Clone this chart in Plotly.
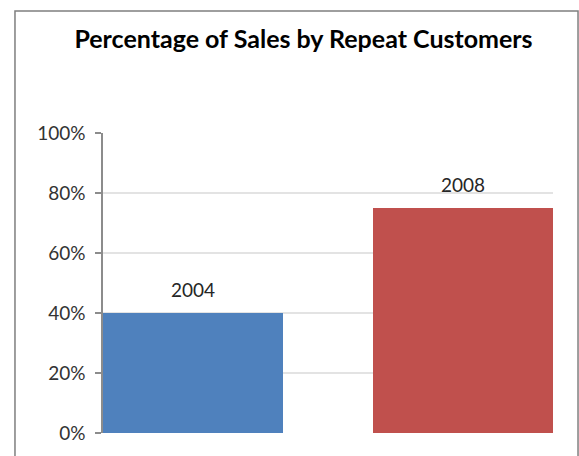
import plotly.graph_objects as go

# Share of sales coming from repeat customers, by year
years = ["2004", "2008"]
repeat_share = [0.40, 0.75]
bar_colors = ["#4F81BD", "#C0504D"]
y_ticks = [0, 0.2, 0.4, 0.6, 0.8, 1.0]

W, H = 579, 456
FONT = "Lato"
BAR_W = 2 / 3  # bars fill two thirds of each category slot

fig = go.Figure(
    go.Bar(
        x=years,
        y=repeat_share,
        marker=dict(color=bar_colors, line=dict(width=0)),
        width=BAR_W,
        hoverinfo="skip",
    )
)

# year labels sitting just above each bar (category axis -> position by index)
for i, (yr, val) in enumerate(zip(years, repeat_share)):
    fig.add_annotation(
        x=i, y=val, xref="x", yref="y",
        text=yr, showarrow=False,
        yanchor="middle", yshift=24,
        font=dict(family=FONT, size=19, color="#262626"),
    )

# thin frame around the whole chart
fig.add_shape(
    type="rect", xref="paper", yref="paper",
    x0=-0.1956, x1=1.0556, y0=-0.2, y1=1.4067,
    line=dict(color="#7f7f7f", width=1.5), fillcolor="rgba(0,0,0,0)",
    layer="below",
)

fig.update_layout(
    width=W, height=H,
    margin=dict(l=103, r=26, t=133, b=23),
    paper_bgcolor="white", plot_bgcolor="white",
    showlegend=False,
    title=dict(
        text="<b>Percentage of Sales by Repeat Customers</b>",
        x=303.5 / W, xanchor="center", xref="container",
        y=1 - 39 / H, yanchor="middle", yref="container",
        font=dict(family=FONT, size=25, color="#000000"),
    ),
    font=dict(family=FONT),
)

# outer bars sit flush against the plot edges
fig.update_xaxes(
    type="category", range=[-BAR_W / 2, len(years) - 1 + BAR_W / 2],
    showticklabels=False, showgrid=False, zeroline=False,
    showline=False, ticks="",
)
fig.update_yaxes(
    range=[0, 1], tickvals=y_ticks, tickformat=".0%",
    showgrid=True, gridcolor="#e3e3e3", gridwidth=1.5,
    zeroline=False,
    showline=True, linecolor="#8c8c8c", linewidth=1.5,
    ticks="outside", ticklen=6, tickcolor="#8c8c8c", tickwidth=1.5,
    ticklabelstandoff=6,
    tickfont=dict(family=FONT, size=19, color="#333333"),
)

fig.write_html("out.html")
